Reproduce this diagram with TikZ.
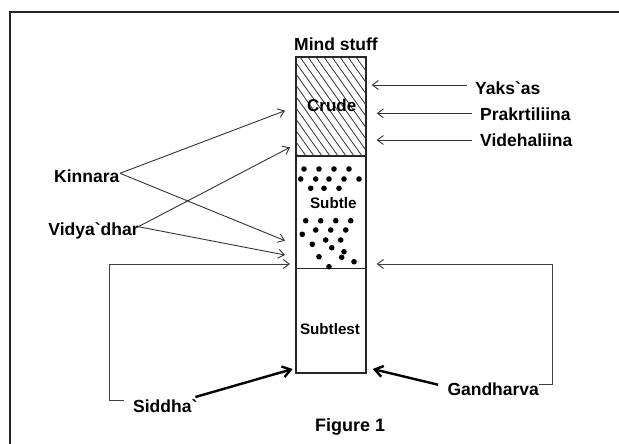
\documentclass[tikz,border=0pt]{standalone}
\usepackage{fontspec}
\newfontfamily\lab{Liberation Sans}
\usetikzlibrary{arrows.meta,calc}
\begin{document}
\begin{tikzpicture}[x=1pt,y=-1pt,
  lbl/.style={font=\lab\bfseries\fontsize{17.5}{20}\selectfont, inner sep=0pt, anchor=base west},
  inlbl/.style={font=\lab\bfseries\fontsize{15.2}{18}\selectfont, inner sep=0pt, anchor=base},
  layer/.style={draw=black!85, line width=1.1pt, minimum width=70pt, inner sep=0pt},
  thinarr/.style={draw=black!80, line width=0.9pt, -{Straight Barb[length=6pt,width=9pt]}},
  thickarr/.style={draw=black, line width=2.4pt, -{Straight Barb[length=8pt,width=11pt]}},
  bracket/.style={draw=black!75, line width=1pt},
  dot/.style={fill=black, circle, inner sep=0pt, minimum size=5.6pt}]
\useasboundingbox (0,0) rectangle (619,444);
% frame
\draw[line width=1.8pt, black!85] (10,444) -- (10,12) -- (619,12);

% layers
\node[layer, minimum height=99pt] (crude) at (331,106.5) {};
\node[layer, minimum height=112.5pt] (subtle) at (331,212.25) {};
\node[layer, minimum height=104.5pt] (subtlest) at (331,320.75) {};

% hatching of crude
\begin{scope}
  \clip (crude.north west) rectangle (crude.south east);
  \foreach \i in {0,...,19} {
    \draw[black!80, line width=0.8pt] ({220+8*\i},57) -- ({220+8*\i+70},156);
  }
\end{scope}
\draw[draw=black!85, line width=1.1pt] (crude.north west) rectangle (crude.south east);

% dots of subtle
\foreach \x/\y in {304/169,319/169,334/169,349/169,
  300.7/179,315.7/179,329/179,344/179,359/179,
  310.7/188.3,324/188.3,339/188.3,
  305.7/220.7,320.7/220.7,335.7/220.7,350.7/220.7,
  302.3/234.3,315.7/230,330.7/230,345.7/230,
  312.3/244.3,325.7/240,340.7/240,
  331.7/247.7,344/251.7,
  319/256.7,341.7/257.3,354/261.7,329/266.7}
  \node[dot] at (\x,\y) {};

% labels
\node[lbl] (mind) at (294,51) {Mind stuff};
\node[inlbl, font=\lab\bfseries\fontsize{17}{20}\selectfont] (crudel) at (331.7,111.7) {Crude};
\node[inlbl] (subtlel) at (333.3,208.7) {Subtle};
\node[inlbl] (subtlestl) at (330,334) {Subtlest};

\node[lbl] (yak) at (475,95) {Yaks`as};
\node[lbl] (pra) at (480,120.7) {Prakrtiliina};
\node[lbl] (vid) at (480,146.7) {Videhaliina};
\node[lbl] (kin) at (54,182.3) {Kinnara};
\node[lbl] (vdh) at (48.3,235.7) {Vidya`dhar};
\node[lbl] (sid) at (133,412.4) {Siddha`};
\node[lbl] (gan) at (447.3,395.8) {Gandharva};
\node[lbl, font=\lab\bfseries\fontsize{18}{20}\selectfont] (fig) at (315,431.7) {Figure 1};

% coordinates
\coordinate (yakS) at (466.7,85);
\coordinate (yakT) at (371.7,85);
\coordinate (praS) at (471.7,113.3);
\coordinate (praT) at (376.7,113.3);
\coordinate (vidS) at (471.7,140);
\coordinate (vidT) at (376.7,140);
\coordinate (kinS) at (120,173.3);
\coordinate (kinT1) at (285,110.7);
\coordinate (kinT2) at (285,240.7);
\coordinate (vdhS) at (138.3,226.7);
\coordinate (vdhT1) at (290,147.3);
\coordinate (vdhT2) at (285,255);
\coordinate (sidB) at (124.4,400.5);
\coordinate (sidC1) at (109.4,400.5);
\coordinate (sidC2) at (109.4,264);
\coordinate (sidT) at (290,264);
\coordinate (ganB) at (539,384.7);
\coordinate (ganC1) at (552.7,384.7);
\coordinate (ganC2) at (552.7,264);
\coordinate (ganT) at (376.7,264);
\coordinate (sidS) at (195.4,397);
\coordinate (sidT2) at (292.7,369);
\coordinate (ganS) at (438,384.7);
\coordinate (ganT2) at (372.7,369);

% arrows
\draw[thinarr] (yakS) -- (yakT);
\draw[thinarr] (praS) -- (praT);
\draw[thinarr] (vidS) -- (vidT);
\draw[thinarr] (kinS) -- (kinT1);
\draw[thinarr] (kinS) -- (kinT2);
\draw[thinarr] (vdhS) -- (vdhT1);
\draw[thinarr] (vdhS) -- (vdhT2);
\draw[bracket, -{Straight Barb[length=6pt,width=9pt]}] (sidB) -- (sidC1) -- (sidC2) -- (sidT);
\draw[bracket, -{Straight Barb[length=6pt,width=9pt]}] (ganB) -- (ganC1) -- (ganC2) -- (ganT);
\draw[thickarr] (sidS) -- (sidT2);
\draw[thickarr] (ganS) -- (ganT2);
\end{tikzpicture}
\end{document}
